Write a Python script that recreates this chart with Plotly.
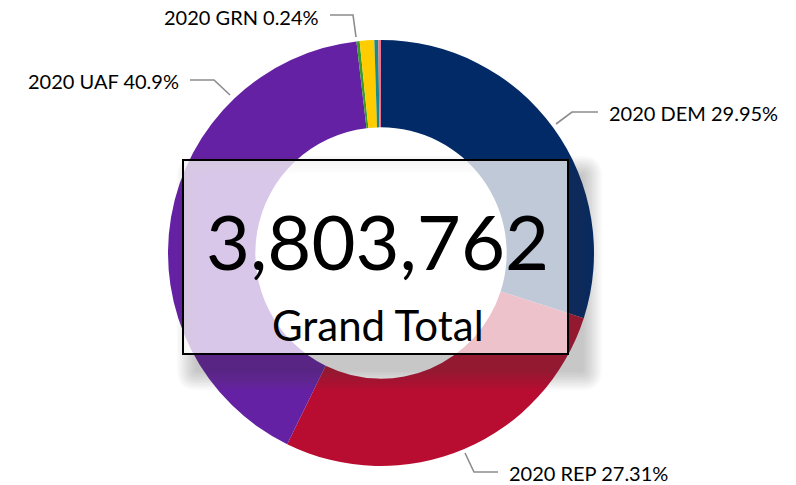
import plotly.graph_objects as go

# ---- data ----
categories = ["2020 DEM", "2020 REP", "2020 UAF", "2020 GRN", "2020 LBT", "2020 WF", "2020 OTH"]
votes = [1139227, 1038807, 1555739, 9129, 41841, 11411, 7608]
pct_labels = ["29.95%", "27.31%", "40.9%", "0.24%", "1.1%", "0.3%", "0.2%"]
colors = ["#012A66", "#B80D31", "#6521A3", "#3A9A2A", "#FFCC00", "#1B8A8C", "#F0708F"]
shown_labels = ["2020 DEM", "2020 REP", "2020 UAF", "2020 GRN"]
total_caption = "Grand Total"

W, H = 796, 485
FONT = "Lato"


def px(x, y):
    return x / W, 1 - y / H


cx, cy, R = 381, 253, 213

fig = go.Figure()
fig.add_trace(go.Pie(
    labels=categories, values=votes, sort=False, direction="clockwise", rotation=0,
    hole=0.59, textinfo="none", hoverinfo="skip",
    marker=dict(colors=colors, line=dict(width=0)),
    domain=dict(x=[(cx - R) / W, (cx + R) / W], y=[1 - (cy + R) / H, 1 - (cy - R) / H]),
    showlegend=False,
))

shapes = []
annotations = []

# ---- label placement (pixel layout) ----
label_layout = {
    "2020 DEM": dict(pts=[(556, 124), (572, 112), (598, 112)], tx=607, ty=113, anchor="left"),
    "2020 REP": dict(pts=[(465, 453), (474, 472), (498, 472)], tx=507, ty=473, anchor="left"),
    "2020 UAF": dict(pts=[(230, 95), (214, 80), (190, 80)], tx=181, ty=81, anchor="right"),
    "2020 GRN": dict(pts=[(356, 37), (353, 15), (330, 15)], tx=321, ty=17, anchor="right"),
}
for cat, pct in zip(categories, pct_labels):
    if cat not in shown_labels:
        continue
    lay = label_layout[cat]
    path = ""
    for i, (x, y) in enumerate(lay["pts"]):
        X, Y = px(x, y)
        path += ("M" if i == 0 else "L") + f"{X:.5f},{Y:.5f}"
    shapes.append(dict(type="path", xref="paper", yref="paper", path=path,
                       line=dict(color="#8C8C8C", width=1.6), layer="above"))
    X, Y = px(lay["tx"], lay["ty"])
    annotations.append(dict(x=X, y=Y, xref="paper", yref="paper", text=f"{cat} {pct}",
                            showarrow=False, xanchor=lay["anchor"], yanchor="middle",
                            font=dict(family=FONT, size=20, color="#000000")))

# ---- center box with soft shadow ----
bx0, by0, bx1, by1 = 183, 160, 568, 354
sdx, sdy = 14, 16
n_layers = 12
spread = 20.0


def rect_path(x0, y0, x1, y1, r=0, reverse=False):
    if r <= 0:
        corners = [(x0, y0), (x1, y0), (x1, y1), (x0, y1)]
        if reverse:
            corners = corners[::-1]
        s = ""
        for i, (x, y) in enumerate(corners):
            X, Y = px(x, y)
            s += ("M" if i == 0 else "L") + f"{X:.5f},{Y:.5f}"
        return s + "Z"
    seq = [
        ("M", (x0 + r, y0)), ("L", (x1 - r, y0)), ("Q", (x1, y0), (x1, y0 + r)),
        ("L", (x1, y1 - r)), ("Q", (x1, y1), (x1 - r, y1)),
        ("L", (x0 + r, y1)), ("Q", (x0, y1), (x0, y1 - r)),
        ("L", (x0, y0 + r)), ("Q", (x0, y0), (x0 + r, y0)),
    ]
    s = ""
    for item in seq:
        coords = []
        for (x, y) in item[1:]:
            X, Y = px(x, y)
            coords.append(f"{X:.5f},{Y:.5f}")
        s += item[0] + " ".join(coords)
    return s + "Z"


hole = rect_path(bx0, by0, bx1, by1, reverse=True)
for k in range(n_layers):
    e = (k + 1) * spread / n_layers
    outer = rect_path(bx0 + sdx - e, by0 + sdy - e, bx1 + sdx + e, by1 + sdy + e, r=e)
    shapes.append(dict(type="path", xref="paper", yref="paper", path=outer + hole,
                       fillcolor="rgba(55,60,78,0.028)", line=dict(width=0), layer="above",
                       fillrule="evenodd"))

X0, Y1 = px(bx0, by0)
X1, Y0 = px(bx1, by1)
shapes.append(dict(type="rect", xref="paper", yref="paper", x0=X0, x1=X1, y0=Y0, y1=Y1,
                   fillcolor="rgba(255,255,255,0.75)", line=dict(color="#000000", width=2),
                   layer="above"))

total = sum(votes)
X, Y = px(377, 240)
annotations.append(dict(x=X, y=Y, xref="paper", yref="paper", text=f"{total:,}",
                        showarrow=False, xanchor="center", yanchor="middle",
                        font=dict(family=FONT, size=76, color="#000000")))
X, Y = px(378, 325)
annotations.append(dict(x=X, y=Y, xref="paper", yref="paper", text=total_caption,
                        showarrow=False, xanchor="center", yanchor="middle",
                        font=dict(family=FONT, size=42, color="#000000")))

fig.update_layout(
    width=W, height=H, margin=dict(l=0, r=0, t=0, b=0),
    paper_bgcolor="#FFFFFF", plot_bgcolor="#FFFFFF",
    shapes=shapes, annotations=annotations, showlegend=False,
)
fig.write_html("out.html")
